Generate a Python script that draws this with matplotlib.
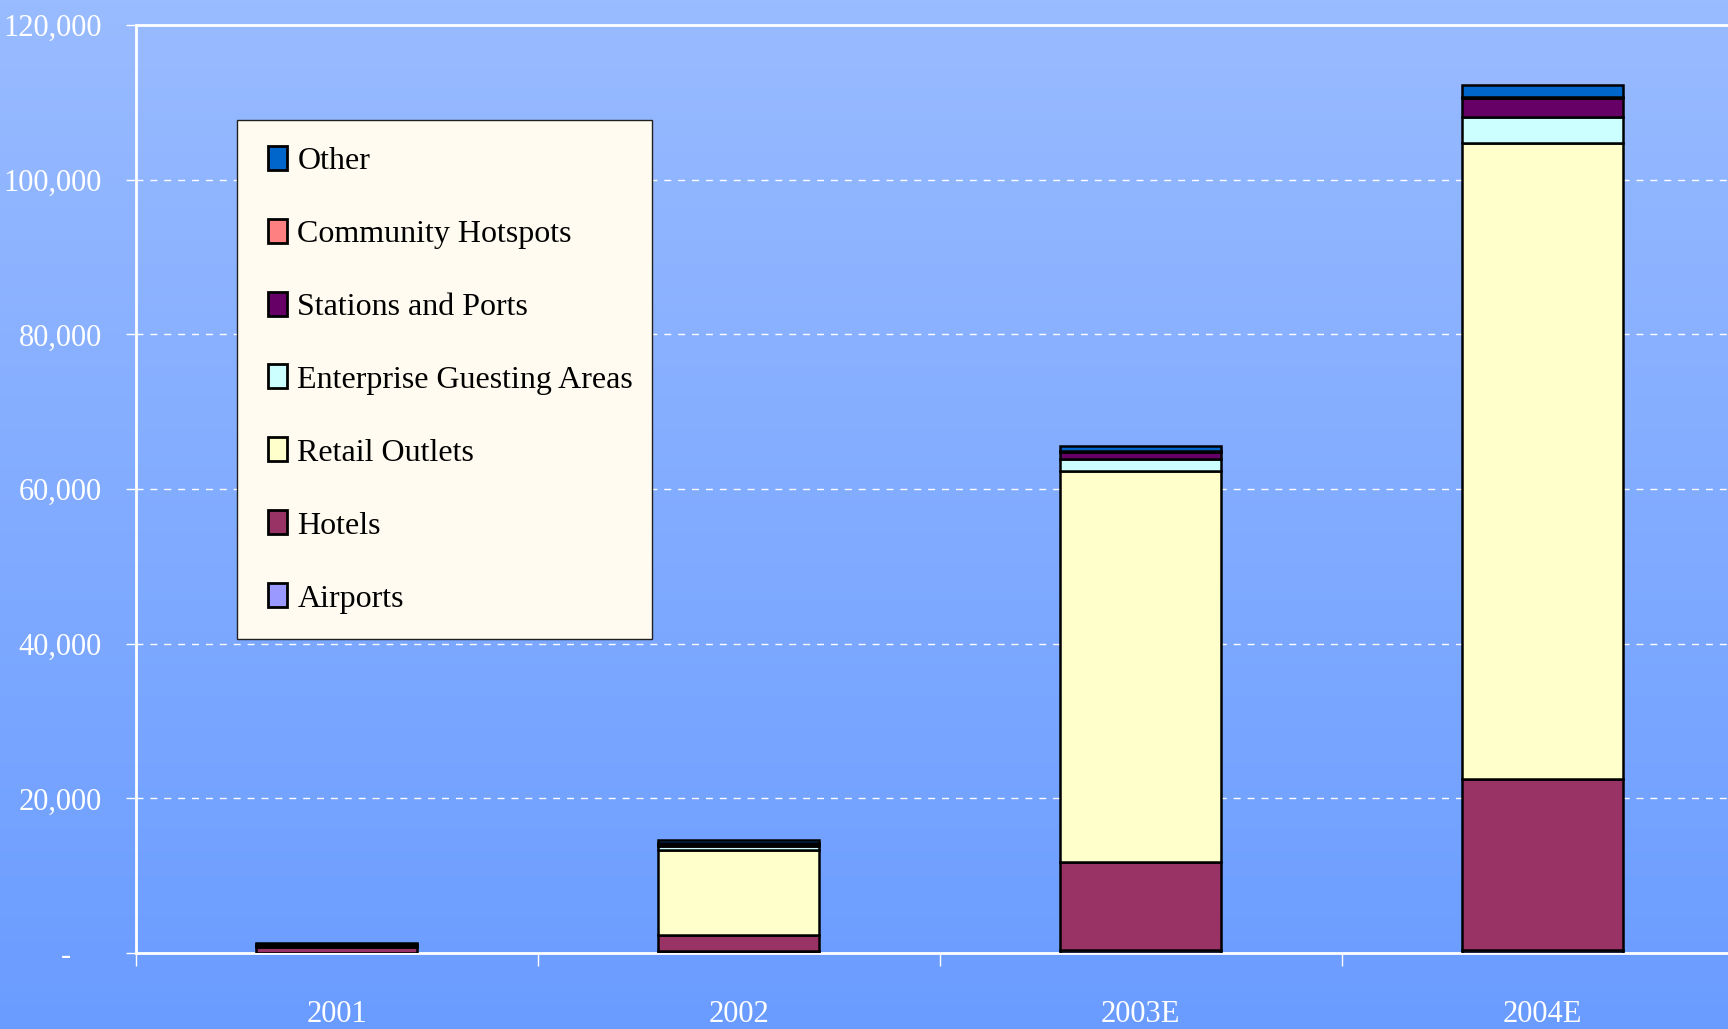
import numpy as np
import matplotlib
matplotlib.use("Agg")
import matplotlib.pyplot as plt
from matplotlib.patches import Patch, Rectangle
from matplotlib.legend_handler import HandlerPatch

categories = ['2001', '2002', '2003E', '2004E']
airports = [50, 200, 400, 400]
hotels = [700, 2100, 11400, 22100]
retail = [150, 11000, 50500, 82200]
enterprise = [50, 500, 1600, 3400]
stations = [200, 300, 900, 2400]
community = [20, 100, 100, 200]
other = [100, 400, 700, 1500]

series_names = ['Airports', 'Hotels', 'Retail Outlets', 'Enterprise Guesting Areas',
                'Stations and Ports', 'Community Hotspots', 'Other']
series_vals = [airports, hotels, retail, enterprise, stations, community, other]
series_colors = ['#9999FF', '#993366', '#FFFFCC', '#CCFFFF', '#660066', '#FF8080', '#0066CC']

y_ticks = [0, 20000, 40000, 60000, 80000, 100000, 120000]
y_labels = ['-    ', '20,000', '40,000', '60,000', '80,000', '100,000', '120,000']

plt.rcParams['font.family'] = ['Liberation Serif', 'DejaVu Serif']

W, H = 1728, 1029
fig = plt.figure(figsize=(W / 100, H / 100), dpi=100)

# gradient background
bg = fig.add_axes([0, 0, 1, 1], zorder=-10)
top = np.array([153, 187, 255]) / 255
bot = np.array([106, 156, 255]) / 255
t = np.linspace(0, 1, 256)[:, None]
grad = (top[None, :] * (1 - t) + bot[None, :] * t)[:, None, :]
bg.imshow(grad, aspect='auto', extent=[0, 1, 0, 1])
bg.set_axis_off()

ax = fig.add_axes([135.5 / W, (H - 953) / H, 1608 / W, (953 - 25) / H])
ax.set_facecolor('none')

x = np.arange(len(categories))
bottom = np.zeros(len(categories))
for name, vals, col in zip(series_names, series_vals, series_colors):
    v = np.array(vals, dtype=float)
    ax.bar(x, v, 0.4, bottom=bottom, color=col, edgecolor='black', linewidth=1.8,
           zorder=3, label=name)
    bottom += v

ax.set_xlim(-0.5, 3.5)
ax.set_ylim(0, 120000)

ax.set_yticks(y_ticks)
ax.set_yticklabels(y_labels)
for yv in y_ticks[1:-1]:
    ax.axhline(yv, color='white', lw=1, ls=(0, (5, 5)), zorder=1)

ax.set_xticks([-0.5, 0.5, 1.5, 2.5, 3.5])
ax.set_xticklabels([])
ax.set_xticks(x, minor=True)
ax.set_xticklabels(categories, minor=True)
ax.tick_params(axis='x', which='major', length=9.4, width=1, color='white', direction='out')
ax.tick_params(axis='x', which='minor', length=0, pad=33.5, labelsize=22, labelcolor='white')
ax.tick_params(axis='y', length=7.2, width=1, color='white', direction='out', pad=17,
               labelsize=22, labelcolor='white')

for s in ['left', 'bottom', 'top']:
    ax.spines[s].set_color('white')
    ax.spines[s].set_linewidth(2)
ax.spines['right'].set_visible(False)

fs = 23
px = 72 / 100.0


def make_handle(legend, orig_handle, xdescent, ydescent, width, height, fontsize):
    w = 19 * px
    h = 24 * px
    return Rectangle((-xdescent + width - w, -ydescent + (height - h) / 2), w, h)


handles = [Patch(facecolor=c, edgecolor='black', linewidth=2) for c in series_colors]
leg = ax.legend(handles[::-1], series_names[::-1], loc='upper left',
                bbox_to_anchor=(237 / W, 1 - 628 / H, 415 / W, 508 / H),
                bbox_transform=fig.transFigure, mode='expand', borderaxespad=0,
                fontsize=fs, frameon=True, fancybox=False, framealpha=1,
                facecolor='#FFFBF0', edgecolor='#202020', borderpad=0.81,
                labelspacing=1.35, handlelength=0.77, handleheight=0.75,
                handletextpad=0.31,
                handler_map={Patch: HandlerPatch(patch_func=make_handle)})
leg.get_frame().set_linewidth(1)
leg.set_zorder(5)

fig.savefig('out.png', dpi=100)
